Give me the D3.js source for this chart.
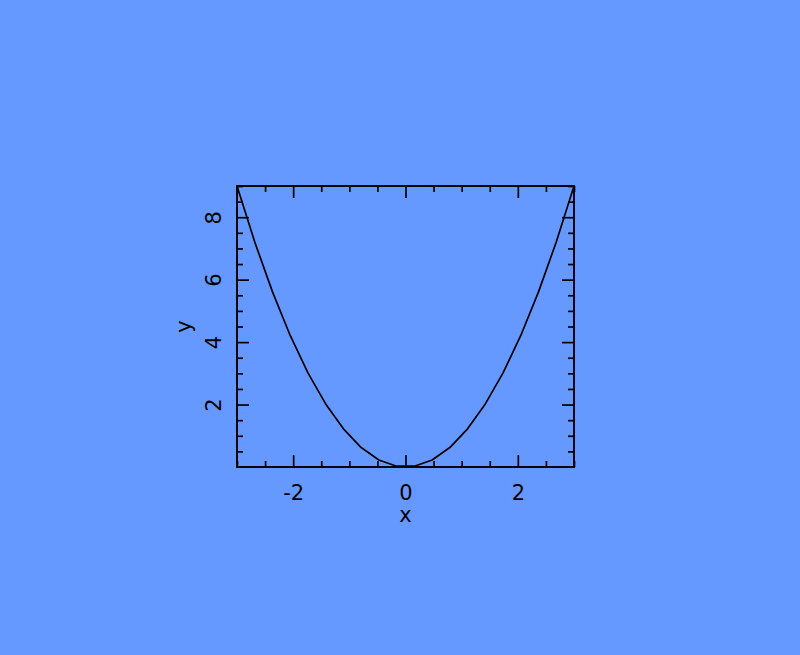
<!DOCTYPE html>
<html><head><meta charset="utf-8">
<script src="https://cdn.jsdelivr.net/npm/d3@7"></script>
<style>html,body{margin:0;padding:0;background:#6699ff;}svg{display:block;}</style>
</head><body><svg id="c" width="800" height="655"></svg>
<script>
const xValues = [-3, -2.684, -2.368, -2.053, -1.737, -1.421, -1.105, -0.789, -0.474, -0.158,
                 0.158, 0.474, 0.789, 1.105, 1.421, 1.737, 2.053, 2.368, 2.684, 3];
const yValues = [9, 7.205, 5.609, 4.213, 3.017, 2.020, 1.222, 0.623, 0.224, 0.025,
                 0.025, 0.224, 0.623, 1.222, 2.020, 3.017, 4.213, 5.609, 7.205, 9];
const xTickLabels = [-2, 0, 2];
const yTickLabels = [2, 4, 6, 8];
const xMinorTicks = [-3, -2.5, -1.5, -1, -0.5, 0.5, 1, 1.5, 2.5, 3];
const yMinorTicks = [0.5, 1, 1.5, 2.5, 3, 3.5, 4.5, 5, 5.5, 6.5, 7, 7.5, 8.5, 9];

const svg = d3.select("#c");
const L = 237, R = 574, T = 186, B = 467;
const x = d3.scaleLinear().domain([-3, 3]).range([L, R]);
const y = d3.scaleLinear().domain([0, 9]).range([B, T]);
const font = "DejaVu Sans, sans-serif";
const fs = 21;
const col = "#000";
const major = 12, minor = 6;
const fmt = d => String(d);

const g = svg.append("g");
function axis(gen, tv, len, tr, labels) {
  const a = g.append("g").attr("transform", tr)
    .call(gen.tickValues(tv).tickSizeInner(-len).tickSizeOuter(0).tickFormat(labels ? fmt : ""));
  a.select(".domain").remove();
  a.selectAll("line").attr("stroke", col).attr("stroke-width", 1.7);
  a.selectAll("text").attr("font-family", font).attr("font-size", fs).attr("fill", col);
  return a;
}
// bottom
const bx = axis(d3.axisBottom(x), xTickLabels, major, `translate(0,${B})`, true);
bx.selectAll("text").attr("dy", null).attr("y", 33);
axis(d3.axisBottom(x), xMinorTicks, minor, `translate(0,${B})`, false);
// top
axis(d3.axisTop(x), xTickLabels, major, `translate(0,${T})`, false);
axis(d3.axisTop(x), xMinorTicks, minor, `translate(0,${T})`, false);
// left
const ly = axis(d3.axisLeft(y), yTickLabels, major, `translate(${L},0)`, true);
ly.selectAll("text").attr("x", null).attr("y", null).attr("dy", null)
  .attr("text-anchor", "middle").attr("dominant-baseline", "central")
  .attr("transform", "translate(-23,0) rotate(-90)");
axis(d3.axisLeft(y), yMinorTicks, minor, `translate(${L},0)`, false);
// right
axis(d3.axisRight(y), yTickLabels, major, `translate(${R},0)`, false);
axis(d3.axisRight(y), yMinorTicks, minor, `translate(${R},0)`, false);

// frame
g.append("rect").attr("x", L).attr("y", T).attr("width", R - L).attr("height", B - T)
  .attr("fill", "none").attr("stroke", col).attr("stroke-width", 1.9);

// curve
const pts = xValues.map((v, i) => [v, yValues[i]]);
g.append("path").datum(pts)
  .attr("d", d3.line().x(d => x(d[0])).y(d => y(d[1])))
  .attr("fill", "none").attr("stroke", col).attr("stroke-width", 1.7).attr("stroke-linejoin", "round");

// axis titles
g.append("text").attr("x", (L + R) / 2).attr("y", 522).attr("text-anchor", "middle")
  .attr("font-family", font).attr("font-size", fs).attr("fill", col).text("x");
g.append("text").attr("transform", `translate(191,${(T + B) / 2}) rotate(-90)`).attr("text-anchor", "middle")
  .attr("font-family", font).attr("font-size", fs).attr("fill", col).text("y");
</script></body></html>
